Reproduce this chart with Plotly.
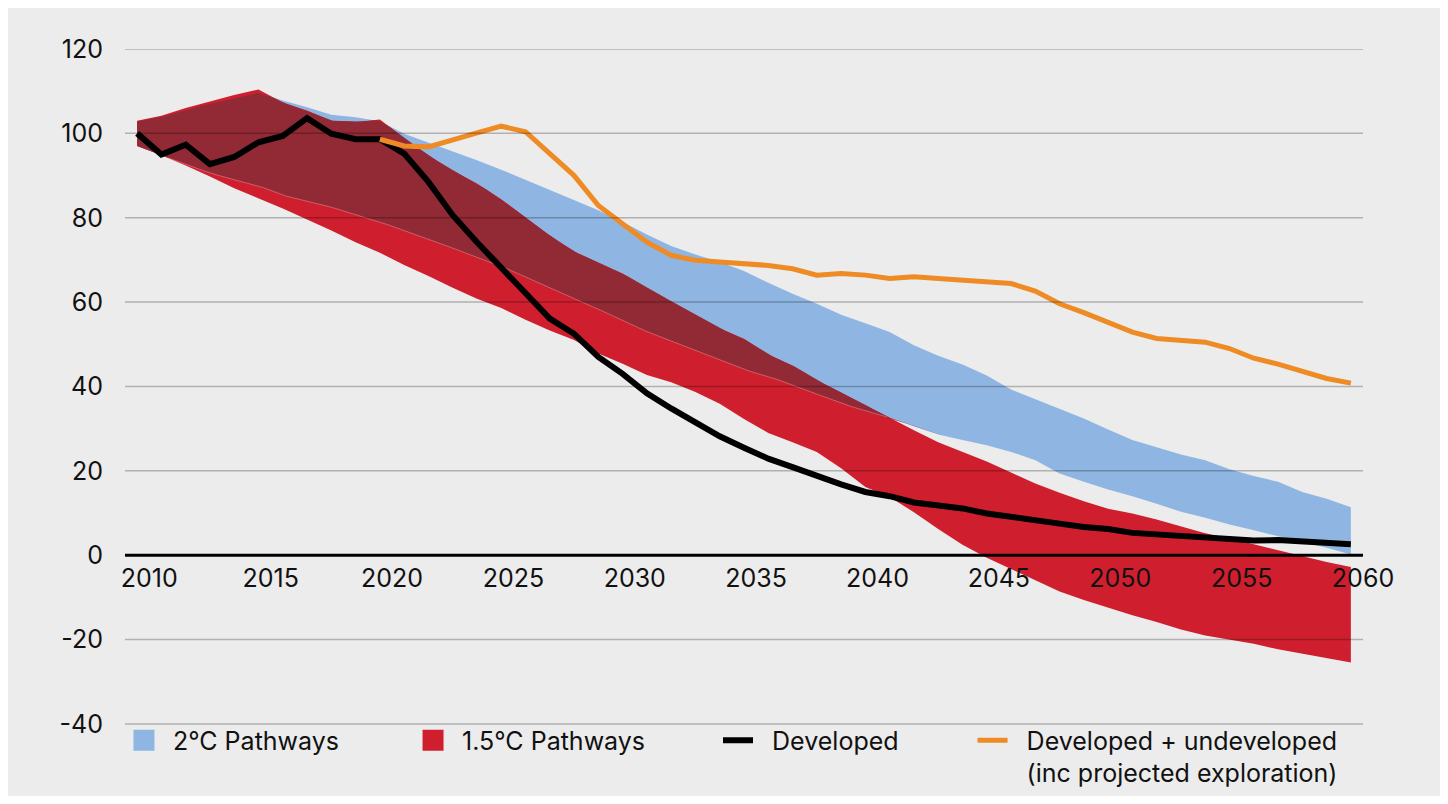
import numpy as np
import plotly.graph_objects as go

# ---------------- data ----------------
years = list(range(2010, 2061))

developed = [100.0, 95.0, 97.3, 92.7, 94.4, 97.9, 99.4, 103.6, 99.9, 98.6, 98.6,
             95.2, 88.5, 80.6, 74.2, 68.3, 62.0, 56.1, 52.5, 47.0, 43.0,
             38.4, 34.8, 31.6, 28.2, 25.5, 22.9, 20.9, 18.8, 16.8, 15.0,
             14.0, 12.5, 11.8, 11.1, 9.9, 9.0, 8.3, 7.5, 6.7, 6.2,
             5.3, 4.9, 4.5, 4.1, 3.7, 3.5, 3.6, 3.3, 3.2, 2.6]

undev_years = list(range(2020, 2061))
dev_undev = [98.6, 97.0, 96.8, 98.3, 100.1, 101.7, 100.4, 95.2, 90.0, 82.9, 78.4,
             74.2, 71.1, 69.9, 69.5, 69.1, 68.7, 67.9, 66.4, 66.8, 66.4,
             65.6, 66.0, 65.6, 65.2, 64.8, 64.4, 62.6, 59.6, 57.5, 55.3,
             52.9, 51.4, 50.9, 50.5, 49.0, 46.7, 45.3, 43.7, 41.9, 40.8]

p2_high = [102.8, 103.8, 105.6, 107.0, 108.4, 109.6, 107.8, 106.2, 104.4, 103.8, 102.9,
           99.9, 97.8, 95.8, 93.6, 91.4, 89.0, 86.6, 84.2, 81.8, 79.0,
           76.0, 73.3, 71.3, 69.5, 67.4, 64.6, 62.0, 59.6, 57.0, 55.0,
           52.9, 49.8, 47.3, 45.2, 42.6, 39.3, 37.0, 34.6, 32.4, 29.8,
           27.3, 25.6, 23.9, 22.5, 20.4, 18.8, 17.4, 15.0, 13.4, 11.4]
p2_low = [97.0, 94.8, 92.6, 90.6, 89.0, 87.6, 85.3, 84.0, 82.5, 80.8, 79.0,
          77.0, 75.0, 72.8, 70.8, 68.5, 66.0, 63.5, 61.0, 58.4, 55.6,
          53.0, 50.8, 48.6, 46.2, 44.0, 42.4, 40.4, 38.2, 36.0, 34.2,
          32.6, 30.6, 28.6, 27.3, 26.1, 24.5, 22.5, 19.4, 17.4, 15.6,
          14.0, 12.2, 10.3, 8.9, 7.3, 5.9, 4.6, 3.2, 1.8, 0.2]

p15_high = [103.0, 104.2, 106.0, 107.6, 109.1, 110.4, 107.3, 105.4, 103.0, 102.7, 103.3,
            98.9, 94.8, 91.2, 88.1, 84.4, 80.0, 75.8, 72.0, 69.4, 66.8,
            63.4, 60.2, 57.0, 53.8, 51.3, 47.6, 45.0, 41.5, 38.6, 35.6,
            32.5, 29.6, 26.8, 24.5, 22.2, 19.6, 17.0, 14.8, 12.8, 11.0,
            9.9, 8.5, 6.8, 5.2, 4.0, 2.6, 1.2, -0.3, -1.6, -2.8]
p15_low = [97.0, 94.8, 92.4, 89.8, 87.0, 84.6, 82.2, 79.6, 77.0, 74.2, 71.7,
           68.8, 66.2, 63.4, 60.8, 58.6, 55.8, 53.3, 51.0, 47.8, 45.4,
           42.7, 41.0, 38.7, 35.9, 32.3, 29.0, 26.8, 24.5, 20.6, 16.2,
           13.8, 10.2, 6.2, 2.5, -0.6, -3.3, -6.0, -8.6, -10.6, -12.4,
           -14.2, -15.8, -17.6, -19.0, -20.0, -21.0, -22.3, -23.3, -24.4, -25.4]

x_tick_years = [2010, 2015, 2020, 2025, 2030, 2035, 2040, 2045, 2050, 2055, 2060]
y_ticks = [-40, -20, 0, 20, 40, 60, 80, 100, 120]

NB = "\u00a0\u00a0"
names = ["2°C Pathways", "1.5°C Pathways", NB + "Developed",
         NB + "Developed + undeveloped<br>" + NB + "(inc projected exploration)"]

# ---------------- styles ----------------
BLUE = "#8fb6e2"
RED = "#cf1f2e"
DARK = "#922a36"
BLACK = "#000000"
ORANGE = "#ee8b24"
BG = "#ececec"
FONT = "Inter"
TXT = "#111111"

# y range extended below -40 so the legend sits inside the plotting area
Y_RANGE = [-57.07, 120]
ZERO_POS = (0 - Y_RANGE[0]) / (Y_RANGE[1] - Y_RANGE[0])

# overlap of the two bands (derived from the arrays on a fine grid)
xf = np.round(np.arange(years[0], years[-1] + 0.001, 0.05), 3)
bh = np.interp(xf, years, p2_high)
bl = np.interp(xf, years, p2_low)
rh = np.interp(xf, years, p15_high)
rl = np.interp(xf, years, p15_low)
ov_hi = np.minimum(bh, rh)
ov_lo = np.maximum(bl, rl)
mask = ov_hi > ov_lo
ov_top = np.where(mask, ov_hi, ov_lo)
edge = np.where(mask & (bl > rl + 0.05), bl, np.nan)

fig = go.Figure()

def band(lo, hi, color, xs):
    fig.add_trace(go.Scatter(x=xs, y=lo, mode="lines", line=dict(width=0, color=color),
                             showlegend=False, hoverinfo="skip"))
    fig.add_trace(go.Scatter(x=xs, y=hi, mode="lines", line=dict(width=0, color=color),
                             fill="tonexty", fillcolor=color, showlegend=False, hoverinfo="skip"))

band(p2_low, p2_high, BLUE, years)
band(p15_low, p15_high, RED, years)
band(ov_lo, ov_top, DARK, xf)

fig.add_trace(go.Scatter(x=xf, y=edge, mode="lines",
                         line=dict(width=0.8, color="rgba(235,170,175,0.55)"),
                         showlegend=False, hoverinfo="skip", connectgaps=False))

fig.add_trace(go.Scatter(x=years, y=developed, mode="lines", name=names[2],
                         line=dict(color=BLACK, width=6), legend="legend3"))
fig.add_trace(go.Scatter(x=undev_years, y=dev_undev, mode="lines", name=names[3],
                         line=dict(color=ORANGE, width=5), legend="legend4"))

# legend swatches for the bands
fig.add_trace(go.Scatter(x=[None], y=[None], mode="markers", name=names[0],
                         marker=dict(symbol="square", size=16, color=BLUE,
                                     line=dict(width=5, color=BLUE)), legend="legend"))
fig.add_trace(go.Scatter(x=[None], y=[None], mode="markers", name=names[1],
                         marker=dict(symbol="square", size=16, color=RED,
                                     line=dict(width=5, color=RED)), legend="legend2"))

# gridlines drawn above the bands
for v in y_ticks:
    if v == 0:
        fig.add_hline(y=v, line=dict(color=BLACK, width=3), layer="above")
    else:
        fig.add_hline(y=v, line=dict(color="rgba(0,0,0,0.25)", width=1.5), layer="above")

legend_font = dict(family=FONT, size=25, color=TXT)
common = dict(orientation="h", yanchor="top", xanchor="left", bgcolor="rgba(0,0,0,0)",
              font=legend_font, valign="top", tracegroupgap=0)
LY = 0.1051

fig.update_layout(
    width=1432, height=788, autosize=False,
    margin=dict(l=117, r=77, t=41, b=0),
    paper_bgcolor=BG, plot_bgcolor=BG,
    font=dict(family=FONT, size=25, color=TXT),
    xaxis=dict(range=[2009.5, 2060.5], tickmode="array",
               tickvals=[y + 0.5 for y in x_tick_years],
               ticktext=[str(y) for y in x_tick_years],
               anchor="free", position=ZERO_POS, showgrid=False, zeroline=False,
               showline=False, ticks="outside", ticklen=1, tickcolor="rgba(0,0,0,0)",
               tickfont=dict(family=FONT, size=25, color=TXT)),
    yaxis=dict(range=Y_RANGE, tickmode="array", tickvals=y_ticks,
               ticktext=[str(v) for v in y_ticks], showgrid=False, zeroline=False,
               showline=False, ticks="outside", ticklen=16, tickcolor="rgba(0,0,0,0)",
               tickfont=dict(family=FONT, size=25, color=TXT)),
    legend=dict(x=-0.0081, y=LY, itemwidth=48, **common),
    legend2=dict(x=0.2254, y=LY, itemwidth=48, **common),
    legend3=dict(x=0.479, y=LY, itemwidth=30, **common),
    legend4=dict(x=0.6846, y=LY, itemwidth=30, **common),
)

fig.write_html("out.html")
